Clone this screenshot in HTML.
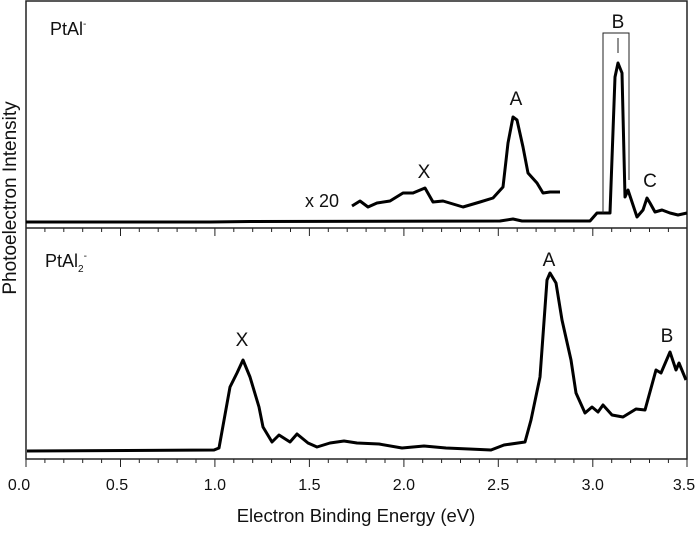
<!DOCTYPE html>
<html><head><style>
body{margin:0;background:#fff}
svg text{font-family:"Liberation Sans",Arial,sans-serif;fill:#111}
</style></head><body>
<svg width="700" height="528" viewBox="0 0 700 528" xmlns="http://www.w3.org/2000/svg">
<rect x="26" y="1" width="661" height="458" fill="none" stroke="#222" stroke-width="1.5"/>
<line x1="26" y1="228" x2="687" y2="228" stroke="#222" stroke-width="1.5"/>
<g id="ticks" stroke="#222" stroke-width="1">
<path d="
M26 228v8M44.9 228v4M63.8 228v4M82.7 228v4M101.6 228v4M120.5 228v8M139.3 228v4M158.2 228v4M177.1 228v4M196 228v4M214.9 228v8M233.8 228v4M252.7 228v4M271.6 228v4M290.5 228v4M309.4 228v8M328.3 228v4M347.2 228v4M366.1 228v4M385 228v4M403.9 228v8M422.7 228v4M441.6 228v4M460.5 228v4M479.4 228v4M498.3 228v8M517.2 228v4M536.1 228v4M555 228v4M573.9 228v4M592.8 228v8M611.7 228v4M630.6 228v4M649.5 228v4M668.4 228v4
M26 459v8M44.9 459v4M63.8 459v4M82.7 459v4M101.6 459v4M120.5 459v8M139.3 459v4M158.2 459v4M177.1 459v4M196 459v4M214.9 459v8M233.8 459v4M252.7 459v4M271.6 459v4M290.5 459v4M309.4 459v8M328.3 459v4M347.2 459v4M366.1 459v4M385 459v4M403.9 459v8M422.7 459v4M441.6 459v4M460.5 459v4M479.4 459v4M498.3 459v8M517.2 459v4M536.1 459v4M555 459v4M573.9 459v4M592.8 459v8M611.7 459v4M630.6 459v4M649.5 459v4M668.4 459v4M687 459v8"/>
</g>
<g font-size="16" text-anchor="middle">
<text x="19" y="490">0.0</text><text x="117" y="490">0.5</text><text x="214.9" y="490">1.0</text><text x="309.4" y="490">1.5</text><text x="403.9" y="490">2.0</text><text x="498.3" y="490">2.5</text><text x="592.8" y="490">3.0</text><text x="684" y="490">3.5</text>
</g>
<text x="356" y="522" font-size="18.5" text-anchor="middle">Electron Binding Energy (eV)</text>
<text transform="translate(16,198) rotate(-90)" font-size="19" text-anchor="middle">Photoelectron Intensity</text>
<g fill="none" stroke="#000" stroke-width="3" stroke-linejoin="round">
<polyline points="352,206 360,201 368,207 377,203 390,201 403,193 413,193 425,188 433,202 443,201 463,207 480,202 493,198 503,187 508,143 513,117 517,120 523,147 528,173 537,183 543,193 550,192 560,192"/>
<polyline points="26,222 210,222 250,221.5 500,221 513,219 522,221 590,221 597,213 603,213 610,213 615,77 618,63 622,73 625,197 628,190 637,217 643,210 647,198 650,203 655,212 662,210 670,213 678,215 687,213"/>
<polyline points="27,451 214,450 219,448 230,387 237,373 243,360 250,377 259,407 263,427 272,442 279,435 290,442 297,434 308,443 317,447 330,443 344,441 357,443 379,444 402,448 424,446 446,448 469,449 491,450 504,445 525,442 531,420 540,377 547,280 550,273 556,283 562,320 571,360 576,393 585,413 592,407 598,412 603,405 612,415 623,417 636,409 645,410 656,370 661,373 670,352 676,370 679,363 686,380"/>
</g>
<g fill="none" stroke="#222" stroke-width="1">
<polyline points="603,213 603,33 629,33 629,180"/>
<line x1="618" y1="38" x2="618" y2="53"/>
</g>
<g font-size="19" text-anchor="middle">
<text x="618" y="28">B</text>
<text x="516" y="105">A</text>
<text x="424" y="178">X</text>
<text x="650" y="187">C</text>
<text x="242" y="346">X</text>
<text x="549" y="266">A</text>
<text x="667" y="342">B</text>
</g>
<text x="305" y="207" font-size="18">x 20</text>
<text x="50" y="35" font-size="18">PtAl<tspan font-size="10" dy="-8">-</tspan></text>
<text x="45" y="267" font-size="18">PtAl<tspan font-size="10" dy="5">2</tspan><tspan font-size="10" dy="-13">-</tspan></text>
</svg>
</body></html>
